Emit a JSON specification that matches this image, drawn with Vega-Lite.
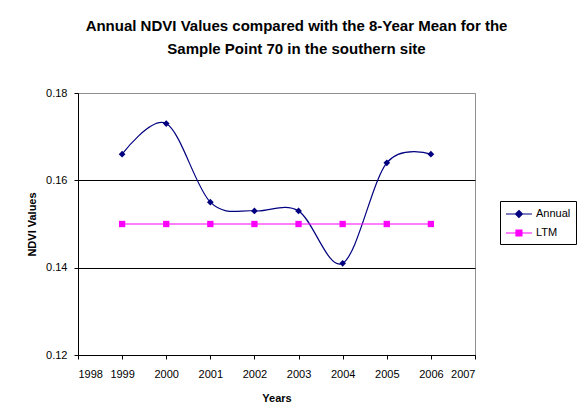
{
  "$schema": "https://vega.github.io/schema/vega-lite/v6.json",
  "width": 397,
  "height": 262,
  "autosize": {"type": "none"},
  "padding": {"left": 78, "top": 93, "right": 106, "bottom": 65},
  "background": "white",
  "title": {
    "text": ["Annual NDVI Values compared with the 8-Year Mean for the", "Sample Point 70 in the southern site"],
    "font": "Liberation Sans",
    "fontSize": 15,
    "fontWeight": "bold",
    "color": "#000000",
    "anchor": "middle",
    "dx": 20,
    "lineHeight": 23,
    "offset": 30
  },
  "data": {
    "values": [
      {"year": 1999, "series": "Annual", "ndvi": 0.166},
      {"year": 2000, "series": "Annual", "ndvi": 0.173},
      {"year": 2001, "series": "Annual", "ndvi": 0.155},
      {"year": 2002, "series": "Annual", "ndvi": 0.153},
      {"year": 2003, "series": "Annual", "ndvi": 0.153},
      {"year": 2004, "series": "Annual", "ndvi": 0.141},
      {"year": 2005, "series": "Annual", "ndvi": 0.164},
      {"year": 2006, "series": "Annual", "ndvi": 0.166},
      {"year": 1999, "series": "LTM", "ndvi": 0.15},
      {"year": 2000, "series": "LTM", "ndvi": 0.15},
      {"year": 2001, "series": "LTM", "ndvi": 0.15},
      {"year": 2002, "series": "LTM", "ndvi": 0.15},
      {"year": 2003, "series": "LTM", "ndvi": 0.15},
      {"year": 2004, "series": "LTM", "ndvi": 0.15},
      {"year": 2005, "series": "LTM", "ndvi": 0.15},
      {"year": 2006, "series": "LTM", "ndvi": 0.15}
    ]
  },
  "encoding": {
    "x": {
      "field": "year",
      "type": "quantitative",
      "scale": {"domain": [1998, 2007], "nice": false, "zero": false},
      "axis": {
        "title": "Years",
        "values": [1998, 1999, 2000, 2001, 2002, 2003, 2004, 2005, 2006, 2007],
        "format": "d",
        "grid": false,
        "labelPadding": 9,
        "titlePadding": 13
      }
    },
    "y": {
      "field": "ndvi",
      "type": "quantitative",
      "scale": {"domain": [0.12, 0.18], "nice": false, "zero": false},
      "axis": {
        "title": "NDVI Values",
        "values": [0.12, 0.14, 0.16, 0.18],
        "format": ".2f",
        "grid": true,
        "gridColor": {"condition": {"test": "datum.value >= 0.18", "value": "#909090"}, "value": "#000000"},
        "labelPadding": 7,
        "titlePadding": 8
      }
    },
    "color": {
      "field": "series",
      "type": "nominal",
      "scale": {"domain": ["Annual", "LTM"], "range": ["#000080", "#FF00FF"]},
      "legend": {
        "title": null,
        "orient": "none",
        "legendX": 422,
        "legendY": 108,
        "strokeColor": "#000000",
        "fillColor": "#ffffff",
        "padding": 5,
        "labelFont": "Liberation Sans",
        "labelFontSize": 11,
        "labelColor": "#000000",
        "symbolSize": 196,
        "symbolStrokeWidth": 1.1,
        "symbolType": "stroke",
        "rowPadding": 5,
        "labelOffset": 15,
        "encode": {
          "symbols": {
            "update": {
              "shape": {"signal": "datum.value === 'LTM' ? 'M-1,0H2.7M0.42,-0.43H1.28V0.43H0.42Z' : 'M-1,0H2.7M0.85,-0.5L1.35,0L0.85,0.5L0.35,0Z'"},
              "fill": {"scale": "color", "field": "value"},
              "stroke": {"scale": "color", "field": "value"},
              "opacity": {"value": 1}
            }
          }
        }
      }
    }
  },
  "layer": [
    {
      "mark": {"type": "line", "interpolate": "cardinal", "strokeWidth": 1.2},
      "encoding": {
        "strokeWidth": {"condition": {"test": "datum.series === 'LTM'", "value": 1.6}, "value": 1.2}
      }
    },
    {
      "mark": {"type": "point", "filled": true, "opacity": 1},
      "encoding": {
        "shape": {"condition": {"test": "datum.series === 'LTM'", "value": "square"}, "value": "diamond"},
        "size": {"condition": {"test": "datum.series === 'LTM'", "value": 40}, "value": 45}
      }
    }
  ],
  "config": {
    "view": {"stroke": "#909090", "strokeWidth": 1},
    "axis": {
      "labelFont": "Liberation Sans",
      "labelFontSize": 11,
      "labelColor": "#000000",
      "titleFont": "Liberation Sans",
      "titleFontSize": 11,
      "titleFontWeight": "bold",
      "titleColor": "#000000",
      "domainColor": "#000000",
      "tickColor": "#000000",
      "tickSize": 4,
      "domainWidth": 1,
      "gridWidth": 1
    }
  }
}
